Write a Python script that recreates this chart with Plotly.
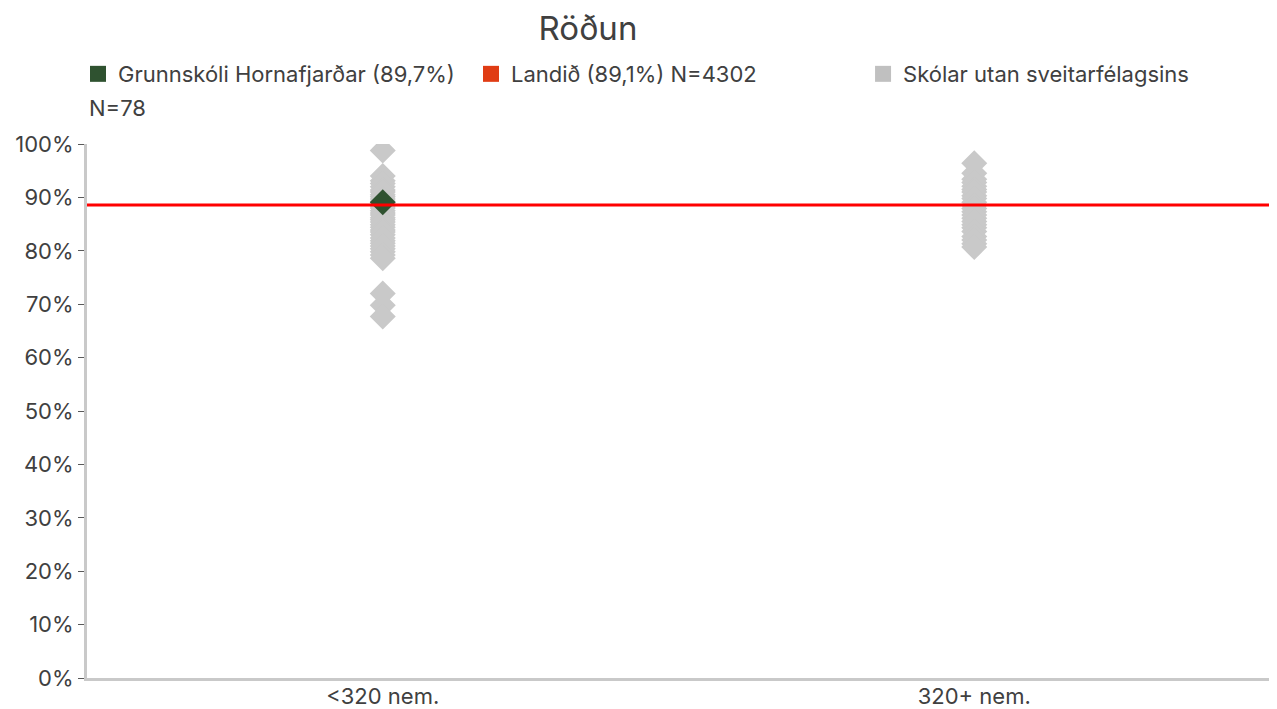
"""Röðun: school scores by size group, with national average line."""

import plotly.graph_objects as go

CATEGORIES = ["<320 nem.", "320+ nem."]

# Other schools (grey diamonds), one list per size group, in %
OTHER_SMALL = [
    98.8, 94.0, 93.1, 92.6, 92.0, 91.4, 91.0, 90.5, 90.1, 89.7, 89.3, 88.9,
    88.4, 88.0, 87.5, 87.1, 86.7, 86.2, 85.8, 85.4, 84.9, 84.4, 83.9, 83.5,
    83.0, 82.4, 81.9, 81.4, 80.9, 80.4, 79.8, 79.2, 78.6, 72.0, 69.8, 67.7,
]
OTHER_LARGE = [
    96.4, 94.5, 93.4, 92.8, 92.1, 91.5, 91.0, 90.3, 89.8, 89.1, 88.5, 87.9,
    87.3, 86.7, 86.1, 85.5, 84.9, 84.3, 83.6, 82.7, 82.0, 81.3, 80.7,
]

SCHOOL_CATEGORY = "<320 nem."
SCHOOL_VALUE = 89.1
NATIONAL_VALUE = 88.6

SCHOOL_NAME = "Grunnskóli Hornafjarðar (89,7%)"
NATIONAL_NAME = "Landið (89,1%) N=4302"
OTHER_NAME = "Skólar utan sveitarfélagsins"
OTHER_N = "N=78"

FONT = "Inter, 'Open Sans', sans-serif"
TEXT = "#404040"
GREY = "#c9c9c9"
GREEN = "#2f5230"
FS = 22

fig = go.Figure()

# grey diamonds
fig.add_trace(go.Scatter(
    x=[CATEGORIES[0]] * len(OTHER_SMALL) + [CATEGORIES[1]] * len(OTHER_LARGE),
    y=[v / 100 for v in OTHER_SMALL + OTHER_LARGE],
    mode="markers",
    marker=dict(symbol="diamond", size=20, color=GREY, line=dict(width=0)),
    showlegend=False,
    hoverinfo="y",
))
# the school itself
fig.add_trace(go.Scatter(
    x=[SCHOOL_CATEGORY],
    y=[SCHOOL_VALUE / 100],
    mode="markers",
    marker=dict(symbol="diamond", size=20, color=GREEN, line=dict(width=0)),
    showlegend=False,
    hoverinfo="y",
))

# legend-only entries (square swatches), each in its own legend box
legend_items = [
    (SCHOOL_NAME, GREEN, "legend"),
    (NATIONAL_NAME, "#e03c14", "legend2"),
    (OTHER_NAME, "#c0c0c0", "legend3"),
]
for name, color, leg in legend_items:
    fig.add_trace(go.Scatter(
        x=[None], y=[None], mode="markers", name=name, legend=leg,
        marker=dict(symbol="square", size=16, color=color),
    ))

# national average line across the full plot width
fig.add_shape(
    type="line", xref="paper", yref="y",
    x0=0, x1=1, y0=NATIONAL_VALUE / 100, y1=NATIONAL_VALUE / 100,
    line=dict(color="#ff0000", width=3),
)

fig.add_annotation(
    text=OTHER_N, xref="paper", yref="paper",
    x=0.0, y=1.067, xanchor="left", yanchor="middle",
    showarrow=False, font=dict(size=FS, color=TEXT, family=FONT),
)


def legend_box(x):
    return dict(
        orientation="h", x=x, xanchor="left", y=1.131, yanchor="middle",
        font=dict(size=FS, color=TEXT), bgcolor="rgba(0,0,0,0)",
        itemclick=False, itemdoubleclick=False,
    )


fig.update_layout(
    width=1269,
    height=701,
    paper_bgcolor="white",
    plot_bgcolor="white",
    font=dict(family=FONT, color=TEXT, size=FS),
    title=dict(
        text="Röðun", x=0.4235, xref="paper", xanchor="center",
        y=0.9715, yanchor="middle", font=dict(size=33, color=TEXT),
    ),
    margin=dict(l=79, r=7, t=136, b=31, autoexpand=False),
    legend=legend_box(-0.0076),
    legend2=legend_box(0.3246),
    legend3=legend_box(0.656),
    xaxis=dict(
        type="category", categoryorder="array", categoryarray=CATEGORIES,
        range=[-0.5, 1.5], showgrid=False, zeroline=False,
        showline=True, linecolor=GREY, linewidth=3, ticks="",
        ticklabelstandoff=-3,
        tickfont=dict(size=FS, color=TEXT),
    ),
    yaxis=dict(
        range=[0, 1], tickformat=".0%", dtick=0.1, showgrid=False,
        zeroline=False, showline=True, linecolor=GREY, linewidth=3,
        ticks="outside", ticklen=6, tickcolor="#595959", tickwidth=1,
        tickfont=dict(size=FS, color=TEXT),
    ),
)

fig.write_html("out.html")
